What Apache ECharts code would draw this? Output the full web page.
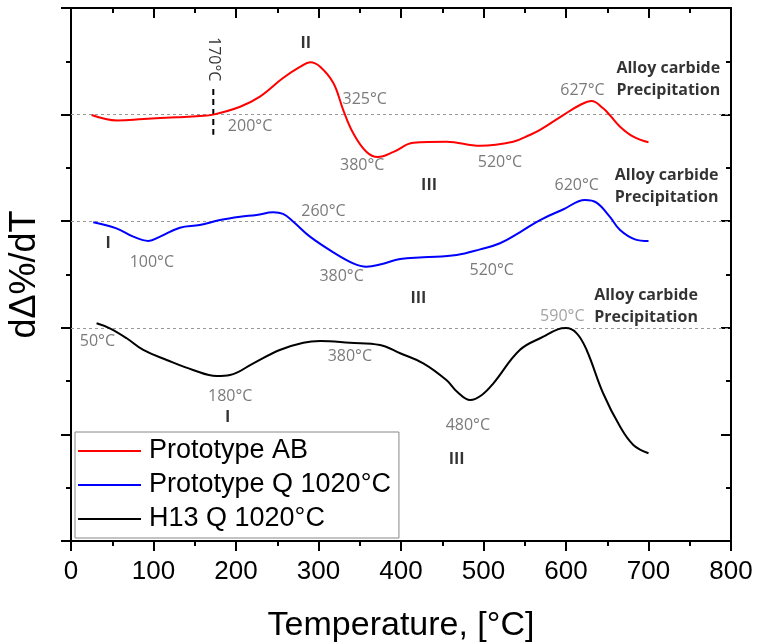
<!DOCTYPE html>
<html>
<head>
<meta charset="utf-8">
<script src="https://cdn.jsdelivr.net/npm/echarts@6/dist/echarts.min.js"></script>
<style>
html,body{margin:0;padding:0;background:#fff;}
#chart{width:758px;height:644px;}
</style>
</head>
<body>
<div id="chart"></div>
<script>
// ---- data ----
const seriesNames = ['Prototype AB', 'Prototype Q 1020°C', 'H13 Q 1020°C'];

const abT = [25,56,88,128,156,172.5,205,229,257,278,290,302,318,330,342,358,372,391,415,455,496,536,556,568.5,596.7,617,631,645,653,665.5,681.6,700];
const abV = [3.996,3.945,3.959,3.975,3.987,4.0,4.074,4.168,4.343,4.449,4.491,4.449,4.296,4.043,3.827,3.652,3.602,3.65,3.736,3.746,3.708,3.746,3.809,3.856,3.996,4.09,4.128,4.059,3.996,3.887,3.793,3.74];

const qT = [27,55,75.5,93.7,108,132,156,180.6,205,225,245,257,269.5,289.7,318,342,358,376,399,427,467.5,496,520,544,568.5,597,623,637,653,665.5,683.6,700];
const qV = [2.99,2.933,2.855,2.815,2.855,2.939,2.964,3.011,3.042,3.058,3.083,3.068,2.995,2.855,2.708,2.605,2.573,2.596,2.645,2.661,2.683,2.736,2.793,2.896,3.011,3.112,3.199,3.174,3.042,2.917,2.83,2.814];

const h13T = [31,47,67.5,87.6,116,148,176.6,192.7,221,253,281.6,302,338,374.5,399,427,455,468,484,498,512,544,572.5,590,600,613,625,645,665.5,681.6,700];
const h13V = [2.042,1.995,1.902,1.792,1.698,1.604,1.548,1.557,1.667,1.792,1.860,1.876,1.860,1.839,1.761,1.667,1.51,1.40,1.322,1.37,1.479,1.792,1.917,1.985,1.997,1.948,1.792,1.386,1.073,0.901,0.823];

const refLevels = [2, 3, 4];

const onsetT = [172.5, 172.5];
const onsetV = [4.24, 3.81];

const greyNoteText = ['200°C','325°C','380°C','260°C','100°C','380°C','520°C','627°C','520°C','620°C','50°C','380°C','180°C','480°C'];
const greyNoteT = [217,356,353,306,98,328,520,620,510,613,32,338,193,481];
const greyNoteV = [3.893,4.14,3.52,3.09,2.614,2.48,3.55,4.23,2.536,3.333,1.87,1.729,1.354,1.088];

const lightNoteText = ['590°C'];
const lightNoteT = [595.5];
const lightNoteV = [2.11];

const boldNoteText = ['II','III','III','III','I','I','Alloy carbide\nPrecipitation','Alloy carbide\nPrecipitation','Alloy carbide\nPrecipitation'];
const boldNoteT = [284.5,434,421,467.5,45,190,724,722,697];
const boldNoteV = [4.669,3.34,2.28,0.766,2.79,1.16,4.334,3.324,2.198];

const rotNoteText = ['170°C'];
const rotNoteT = [172.5];
const rotNoteV = [4.52];

// ---- build ----
const zip = (a, b) => a.map((x, i) => [x, b[i]]);
const notes = (txt, t, v) => txt.map((s, i) => ({ name: s, value: [t[i], v[i]] }));

const axisBlack = { onZero: false, lineStyle: { color: '#000', width: 2 } };
const tickStyle = { color: '#000', width: 2 };

function noteSeries(data, label) {
  return {
    type: 'scatter', data: data, symbolSize: 1, silent: true, z: 10,
    itemStyle: { color: 'rgba(0,0,0,0)' },
    label: Object.assign({ show: true, position: 'inside', formatter: '{b}' }, label)
  };
}

const option = {
  animation: false,
  backgroundColor: '#fff',
  grid: { left: 71, right: 27, top: 8, bottom: 103, outerBoundsMode: 'none', containLabel: false },
  xAxis: [
    {
      type: 'value', min: 0, max: 800, interval: 100, position: 'bottom',
      axisLine: axisBlack,
      axisTick: { inside: false, length: 10, lineStyle: tickStyle },
      minorTick: { show: true, splitNumber: 2, length: 5, lineStyle: tickStyle },
      axisLabel: { fontSize: 26, color: '#000', fontFamily: 'Liberation Sans', margin: 18 },
      splitLine: { show: false },
      name: 'Temperature, [°C]', nameLocation: 'middle', nameGap: 68,
      nameTextStyle: { fontSize: 34, color: '#000', fontFamily: 'Liberation Sans' }
    },
    {
      type: 'value', min: 0, max: 800, interval: 100, position: 'top',
      axisLine: axisBlack,
      axisTick: { inside: true, length: 10, lineStyle: tickStyle },
      minorTick: { show: true, splitNumber: 2, length: 5, lineStyle: tickStyle },
      axisLabel: { show: false }, splitLine: { show: false }
    }
  ],
  yAxis: [
    {
      type: 'value', min: 0, max: 5, interval: 1, position: 'left',
      axisLine: axisBlack,
      axisTick: { inside: false, length: 10, lineStyle: tickStyle },
      minorTick: { show: true, splitNumber: 2, length: 5, lineStyle: tickStyle },
      axisLabel: { show: false }, splitLine: { show: false },
      name: 'dΔ%/dT', nameLocation: 'middle', nameGap: 28, nameRotate: 90,
      nameTextStyle: { fontSize: 36, color: '#000', fontFamily: 'Liberation Sans' }
    },
    {
      type: 'value', min: 0, max: 5, interval: 1, position: 'right',
      axisLine: axisBlack,
      axisTick: { inside: true, length: 10, lineStyle: tickStyle },
      minorTick: { show: true, splitNumber: 2, length: 5, lineStyle: tickStyle },
      axisLabel: { show: false }, splitLine: { show: false }
    }
  ],
  legend: {
    data: seriesNames, orient: 'vertical', left: 75, top: 432,
    icon: 'rect', itemWidth: 63, itemHeight: 2, itemGap: 4,
    padding: [4, 8, 4, 3],
    borderColor: '#888', borderWidth: 1, backgroundColor: '#fff',
    textStyle: { fontSize: 27, fontFamily: 'Liberation Sans', color: '#000', lineHeight: 30, padding: [0, 0, 0, 3] }
  },
  series: [
    {
      name: seriesNames[0], type: 'line', data: zip(abT, abV), smooth: 0.4, symbol: 'none',
      lineStyle: { color: '#ff0000', width: 2 }, itemStyle: { color: '#ff0000' }, z: 5,
      markLine: {
        silent: true, symbol: 'none', label: { show: false },
        lineStyle: { type: [3, 3], color: '#999', width: 1 },
        data: refLevels.map(v => ({ yAxis: v }))
      }
    },
    {
      name: seriesNames[1], type: 'line', data: zip(qT, qV), smooth: 0.4, symbol: 'none',
      lineStyle: { color: '#0000ff', width: 2 }, itemStyle: { color: '#0000ff' }, z: 5
    },
    {
      name: seriesNames[2], type: 'line', data: zip(h13T, h13V), smooth: 0.4, symbol: 'none',
      lineStyle: { color: '#000', width: 2 }, itemStyle: { color: '#000' }, z: 5
    },
    {
      type: 'line', data: zip(onsetT, onsetV), symbol: 'none', silent: true,
      lineStyle: { color: '#000', width: 2, type: [6, 4] }
    },
    noteSeries(notes(greyNoteText, greyNoteT, greyNoteV),
      { fontSize: 16, color: '#595959', fontFamily: 'Open Sans' }),
    noteSeries(notes(lightNoteText, lightNoteT, lightNoteV),
      { fontSize: 16, color: '#8c8c8c', fontFamily: 'Open Sans' }),
    noteSeries(notes(boldNoteText, boldNoteT, boldNoteV),
      { fontSize: 16, color: '#000', fontWeight: 'bold', fontFamily: 'Open Sans', lineHeight: 22, align: 'center' }),
    noteSeries(notes(rotNoteText, rotNoteT, rotNoteV),
      { fontSize: 16, color: '#000', fontFamily: 'Open Sans', rotate: -90 })
  ]
};

const chart = echarts.init(document.getElementById('chart'), null, { renderer: 'canvas' });
chart.setOption(option);
</script>
</body>
</html>
